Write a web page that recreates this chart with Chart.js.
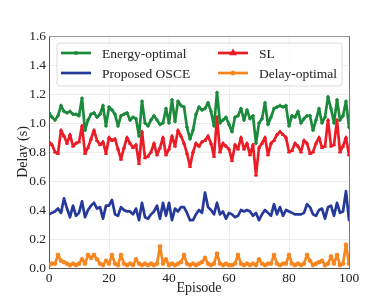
<!DOCTYPE html>
<html>
<head>
<meta charset="utf-8">
<script src="https://cdn.jsdelivr.net/npm/chart.js@4.4.0/dist/chart.umd.min.js"></script>
<style>
  html, body { margin: 0; padding: 0; background: #fff; }
</style>
</head>
<body>
<canvas id="myChart" width="389" height="302"></canvas>
<script>
// episodes 0..100
const episodes = Array.from({ length: 101 }, (_, i) => i);

const energyOptimal = [
  1.07, 1.04, 1.02, 1.05, 1.12, 1.08, 1.07, 1.08, 1.06, 1.06,
  1.05, 1.17, 0.95, 1.02, 1.06, 1.07, 1.04, 1.06, 1.12, 0.98,
  1.11, 1.09, 1.06, 0.98, 1.05, 1.06, 1.07, 1.02, 1.04, 1.03,
  0.91, 1.15, 1.00, 0.98, 1.02, 1.05, 1.02, 0.99, 1.00, 1.10,
  1.00, 1.16, 1.01, 1.15, 1.12, 1.11, 0.97, 0.89, 0.95, 1.06,
  1.11, 1.09, 1.10, 1.14, 1.08, 0.98, 1.21, 1.00, 1.02, 1.04,
  0.99, 0.94, 1.04, 1.05, 1.10, 1.02, 1.09, 1.03, 1.05, 0.86,
  1.00, 1.03, 1.14, 0.99, 1.04, 1.10, 1.11, 1.12, 1.11, 1.12,
  0.98, 1.05, 1.04, 1.08, 1.00, 1.03, 1.05, 1.05, 0.95, 1.02,
  1.10, 1.00, 1.04, 1.18, 1.10, 1.00, 1.16, 1.02, 1.05, 1.15,
  0.97
];

const sl = [
  0.87, 0.85, 0.80, 0.79, 0.95, 0.91, 0.86, 0.92, 0.84, 0.86,
  0.87, 0.98, 0.79, 0.83, 0.89, 0.95, 0.88, 0.85, 0.87, 0.79,
  0.90, 0.88, 0.89, 0.82, 0.75, 0.83, 0.90, 0.86, 0.83, 0.85,
  0.72, 0.94, 0.76, 0.77, 0.80, 0.86, 0.78, 0.83, 0.90, 0.78,
  0.82, 0.91, 0.84, 0.95, 0.91, 0.86, 0.79, 0.70, 0.80, 0.86,
  0.84, 0.87, 0.88, 0.91, 0.86, 0.77, 1.04, 0.80, 0.86, 0.84,
  0.82, 0.74, 0.85, 0.82, 0.90, 0.82, 0.86, 0.78, 0.85, 0.64,
  0.83, 0.86, 0.90, 0.78, 0.86, 0.88, 0.92, 0.94, 0.92, 0.90,
  0.80, 0.81, 0.86, 0.84, 0.80, 0.88, 0.86, 0.79, 0.80, 0.86,
  0.90, 0.83, 0.84, 1.02, 0.84, 0.85, 1.02, 0.80, 0.84, 0.90,
  0.78
];

const proposedOSCE = [
  0.37, 0.38, 0.39, 0.41, 0.38, 0.48, 0.41, 0.35, 0.43, 0.36,
  0.38, 0.46, 0.35, 0.40, 0.43, 0.45, 0.41, 0.42, 0.34, 0.43,
  0.43, 0.47, 0.37, 0.36, 0.42, 0.40, 0.39, 0.39, 0.37, 0.41,
  0.33, 0.45, 0.35, 0.34, 0.37, 0.39, 0.43, 0.34, 0.45, 0.36,
  0.45, 0.33, 0.41, 0.39, 0.42, 0.42, 0.38, 0.33, 0.33, 0.37,
  0.40, 0.38, 0.52, 0.42, 0.40, 0.37, 0.45, 0.37, 0.39, 0.34,
  0.38, 0.37, 0.35, 0.36, 0.40, 0.39, 0.40, 0.39, 0.36, 0.38,
  0.33, 0.37, 0.40, 0.38, 0.36, 0.44, 0.37, 0.42, 0.36, 0.40,
  0.39, 0.38, 0.37, 0.37, 0.37, 0.38, 0.44, 0.42, 0.37, 0.36,
  0.40, 0.41, 0.34, 0.42, 0.43, 0.36, 0.45, 0.38, 0.39, 0.53,
  0.33
];

const delayOptimal = [
  0.02, 0.03, 0.03, 0.09, 0.05, 0.04, 0.03, 0.02, 0.03, 0.02,
  0.03, 0.06, 0.03, 0.09, 0.07, 0.09, 0.06, 0.03, 0.02, 0.05,
  0.03, 0.09, 0.03, 0.02, 0.09, 0.03, 0.02, 0.03, 0.02, 0.06,
  0.03, 0.02, 0.03, 0.02, 0.03, 0.02, 0.03, 0.15, 0.03, 0.06,
  0.02, 0.03, 0.02, 0.03, 0.04, 0.09, 0.03, 0.02, 0.03, 0.02,
  0.03, 0.04, 0.07, 0.03, 0.02, 0.03, 0.10, 0.03, 0.02, 0.03,
  0.02, 0.02, 0.03, 0.09, 0.03, 0.02, 0.03, 0.02, 0.03, 0.02,
  0.06, 0.03, 0.02, 0.03, 0.03, 0.09, 0.03, 0.02, 0.03, 0.03,
  0.09, 0.03, 0.02, 0.03, 0.02, 0.03, 0.09, 0.05, 0.02, 0.03,
  0.04, 0.05, 0.02, 0.03, 0.08, 0.03, 0.09, 0.02, 0.03, 0.16,
  0.03
];

const serif = "'Liberation Serif', 'Times New Roman', serif";
Chart.defaults.font.family = serif;
Chart.defaults.color = "#222";

function series(label, data, color, style, radius, bw) {
  return {
    label: label,
    data: data,
    borderColor: color,
    backgroundColor: color,
    borderWidth: 2.7,
    borderJoinStyle: "round",
    borderCapStyle: "round",
    pointStyle: style,
    pointRadius: radius,
    pointBorderWidth: bw,
    pointHoverRadius: radius,
    tension: 0,
  };
}

// matplotlib style legend: 2 columns, line + marker samples
const legendBox = {
  id: "legendBox",
  afterDraw(chart) {
    const { ctx, chartArea: a } = chart;
    const x0 = a.left + 8, y0 = a.top + 7, w = 285, h = 43;
    ctx.save();
    ctx.beginPath();
    ctx.roundRect(x0, y0, w, h, 3);
    ctx.fillStyle = "rgba(255,255,255,0.85)";
    ctx.fill();
    ctx.strokeStyle = "#dcdcdc";
    ctx.lineWidth = 1;
    ctx.stroke();
    chart.data.datasets.forEach((ds, i) => {
      const col = i % 2, row = Math.floor(i / 2);
      const lx = x0 + 4 + col * 157;
      const ly = y0 + 10 + row * 20;
      ctx.strokeStyle = ds.borderColor;
      ctx.fillStyle = ds.backgroundColor;
      ctx.lineWidth = 2.7;
      ctx.beginPath();
      ctx.moveTo(lx, ly);
      ctx.lineTo(lx + 30, ly);
      ctx.stroke();
      if (ds.pointRadius > 0) {
        Chart.helpers.drawPoint(ctx, {
          pointStyle: ds.pointStyle,
          radius: ds.pointRadius,
          borderWidth: ds.pointBorderWidth,
          rotation: 0,
        }, lx + 15, ly);
      }
      ctx.fillStyle = "#222";
      ctx.font = "13.5px " + serif;
      ctx.textBaseline = "middle";
      ctx.textAlign = "left";
      ctx.fillText(ds.label, lx + 41, ly + 1);
    });
    ctx.restore();
  },
};

// top and right spines
const frame = {
  id: "frame",
  beforeDatasetsDraw(chart) {
    const { ctx, chartArea: a } = chart;
    ctx.save();
    ctx.lineWidth = 1;
    ctx.strokeStyle = "#9a9a9a";
    ctx.beginPath();
    ctx.moveTo(a.left, a.top + 0.5);
    ctx.lineTo(a.right, a.top + 0.5);
    ctx.stroke();
    ctx.strokeStyle = "#777";
    ctx.beginPath();
    ctx.moveTo(a.right + 0.5, a.top);
    ctx.lineTo(a.right + 0.5, a.bottom);
    ctx.stroke();
    ctx.restore();
  },
};

const ctx = document.getElementById("myChart").getContext("2d");
const myChart = new Chart(ctx, {
  type: "line",
  data: {
    labels: episodes,
    datasets: [
      series("Energy-optimal", energyOptimal, "#1b8a3b", "cross", 1.8, 1.5),
      series("SL", sl, "#ec1c26", "triangle", 1.8, 1),
      series("Proposed OSCE", proposedOSCE, "#24399a", "circle", 0, 0),
      series("Delay-optimal", delayOptimal, "#f8861e", "star", 2.3, 1.3),
    ],
  },
  options: {
    responsive: false,
    animation: false,
    layout: { padding: { left: 0, right: 40, top: 36, bottom: 0 } },
    plugins: {
      legend: { display: false },
      tooltip: { enabled: false },
    },
    scales: {
      x: {
        type: "linear",
        min: 0,
        max: 100,
        afterFit: (s) => { s.height = 34; },
        ticks: { stepSize: 20, padding: 2, maxRotation: 0, font: { size: 13.5 }, color: "#222" },
        grid: { color: "#ececec", drawTicks: false },
        border: { color: "#555", width: 1 },
        title: { display: true, text: "Episode", font: { size: 14 }, color: "#222", padding: { top: 0, bottom: 5 } },
      },
      y: {
        min: 0,
        max: 1.6,
        afterFit: (s) => { s.width = 49; },
        ticks: {
          stepSize: 0.2,
          padding: 3,
          font: { size: 13.5 },
          color: "#222",
          callback: (v) => v.toFixed(1),
        },
        grid: { color: "#ececec", drawTicks: false },
        border: { color: "#555", width: 1 },
        title: { display: true, text: "Delay (s)", font: { size: 14 }, color: "#222", padding: { top: 15, bottom: 0 } },
      },
    },
  },
  plugins: [frame, legendBox],
});
</script>
</body>
</html>
